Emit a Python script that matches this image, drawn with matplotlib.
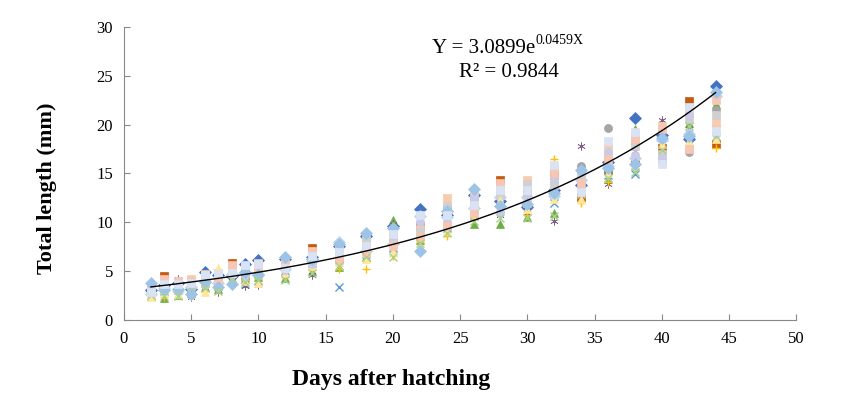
import numpy as np
import matplotlib
matplotlib.use("Agg")
import matplotlib.pyplot as plt

plt.rcParams['font.family'] = ['Liberation Serif', 'DejaVu Serif']

# sampling days
days = [2, 3, 4, 5, 6, 7, 8, 9, 10, 12, 14, 16, 18, 20, 22, 24, 26, 28, 30, 32, 34, 36, 38, 40, 42, 44]

# total length (mm) of each sampled larva, one row per day
lengths = [
    [3.1, 3.4, 2.5, 2.9, 2.6, 3.0, 2.8, 3.3, 2.7, 3.2, 2.4, 3.5, 3.0, 3.8, 2.6, 2.9],
    [3.6, 4.5, 2.2, 3.0, 2.6, 3.8, 2.4, 4.1, 3.3, 3.5, 2.8, 3.9, 4.2, 3.1, 2.5, 3.7],
    [3.8, 3.3, 2.6, 3.1, 4.2, 3.5, 2.9, 3.9, 3.0, 3.6, 2.7, 3.4, 4.0, 3.2, 2.5, 3.7],
    [3.2, 3.6, 2.8, 3.0, 2.4, 2.9, 2.5, 4.2, 3.4, 3.7, 3.1, 3.3, 4.0, 2.7, 3.5, 3.8],
    [4.9, 4.3, 3.4, 3.8, 3.2, 4.5, 3.0, 4.7, 4.0, 4.2, 2.9, 3.6, 4.4, 3.9, 3.3, 4.6],
    [4.6, 4.1, 3.2, 3.5, 2.9, 4.3, 3.1, 4.8, 3.8, 4.4, 5.3, 3.6, 4.0, 3.4, 3.0, 4.7],
    [4.5, 5.8, 4.2, 4.9, 4.0, 5.1, 4.4, 5.5, 4.7, 5.3, 4.1, 5.0, 5.6, 3.7, 4.3, 4.8],
    [5.7, 4.6, 4.2, 3.7, 3.5, 5.2, 4.1, 5.0, 4.8, 5.4, 4.0, 4.5, 5.3, 4.9, 3.9, 5.6],
    [6.1, 5.0, 4.4, 4.0, 3.6, 5.5, 4.2, 5.8, 4.7, 5.2, 3.8, 4.9, 5.4, 4.6, 4.1, 5.7],
    [6.2, 5.4, 4.3, 5.0, 4.6, 6.0, 4.5, 5.6, 5.2, 5.9, 4.8, 5.1, 5.7, 6.4, 4.1, 5.3],
    [6.5, 7.4, 5.0, 5.8, 4.6, 6.8, 5.2, 7.1, 6.0, 6.3, 5.5, 5.7, 6.9, 6.2, 4.8, 6.6],
    [7.6, 6.3, 5.4, 3.4, 5.7, 6.9, 5.2, 7.2, 8.0, 6.6, 5.9, 7.4, 6.1, 7.8, 5.5, 7.0],
    [8.6, 7.5, 6.5, 6.8, 6.3, 8.0, 5.2, 7.8, 7.1, 8.3, 6.2, 7.3, 6.9, 8.9, 6.4, 7.6],
    [9.6, 8.4, 10.2, 7.4, 9.8, 8.9, 6.6, 8.1, 7.8, 9.2, 7.0, 8.6, 7.6, 9.4, 6.5, 8.8],
    [11.4, 9.6, 8.2, 10.3, 8.7, 9.9, 8.0, 9.3, 10.6, 9.0, 7.6, 10.0, 8.5, 7.1, 7.9, 10.8],
    [10.8, 11.4, 9.8, 9.4, 10.2, 11.0, 8.6, 12.5, 10.5, 11.7, 9.1, 10.0, 9.6, 11.2, 8.9, 10.7],
    [12.8, 11.9, 9.8, 10.6, 11.2, 12.4, 10.3, 13.1, 11.5, 12.1, 10.9, 12.6, 11.0, 13.4, 10.1, 11.8],
    [12.2, 14.3, 9.8, 11.5, 10.8, 13.0, 11.9, 13.6, 12.6, 12.9, 12.3, 11.1, 14.0, 11.7, 10.4, 13.3],
    [11.6, 13.0, 10.5, 12.2, 11.0, 13.6, 10.8, 14.3, 12.6, 13.9, 11.4, 12.9, 12.0, 11.9, 10.4, 13.3],
    [13.3, 14.8, 11.0, 12.0, 10.1, 14.0, 16.5, 15.6, 12.7, 13.8, 12.4, 14.5, 15.1, 13.0, 10.6, 15.9],
    [13.8, 12.6, 13.2, 14.6, 17.8, 15.8, 12.0, 15.1, 14.3, 14.9, 12.4, 13.5, 14.0, 15.4, 12.9, 13.1],
    [16.2, 15.4, 14.4, 14.8, 13.9, 19.7, 14.1, 17.6, 15.8, 16.9, 15.0, 17.2, 16.5, 15.6, 14.5, 18.3],
    [20.7, 16.2, 19.6, 14.9, 17.3, 18.1, 15.5, 18.9, 16.6, 17.8, 15.9, 16.9, 18.5, 16.0, 15.2, 19.2],
    [18.9, 17.6, 16.8, 19.3, 20.5, 16.2, 17.2, 19.9, 18.4, 17.0, 18.0, 16.6, 19.6, 18.6, 17.4, 16.0],
    [18.5, 22.4, 20.2, 18.0, 19.6, 17.2, 17.7, 21.4, 19.0, 20.6, 18.3, 21.0, 17.5, 18.8, 19.9, 21.8],
    [24.0, 18.0, 22.1, 19.6, 20.8, 21.5, 17.6, 20.2, 22.9, 21.0, 18.5, 19.0, 22.5, 23.3, 18.8, 19.4],
]

# exponential trend line coefficients
fit_a = 3.0899
fit_b = 0.0459

markers = ['D', 's', '^', 'x', (6, 2, 0), 'o', '+', 's', 'D', 's', '^', 'o', 's', 'D', 'x', 's']
colors = ['#4472C4', '#C55A11', '#70AD47', '#5B9BD5', '#7F6084', '#A5A5A5', '#FFC000', '#F8CBAD',
          '#BDD7EE', '#D0D0D0', '#FFE699', '#C9CBE8', '#F7C6B4', '#9DC3E6', '#A9D18E', '#DAE3F3']

fig = plt.figure(figsize=(8.58, 4.03), dpi=100)
ax = fig.add_axes([0.1445, 0.206, 0.7835, 0.727])

data = np.array(lengths)
for k in range(data.shape[1]):
    ax.plot(days, data[:, k], linestyle='none', marker=markers[k], color=colors[k],
            markersize=5.8, markeredgewidth=1.0 if markers[k] in ('x', '+') else 0.5)

xs = np.linspace(min(days), max(days), 200)
ax.plot(xs, fit_a * np.exp(fit_b * xs), color='black', linewidth=1.0)

ax.set_xlim(0, 50)
ax.set_ylim(0, 30)
ax.set_xticks(range(0, 51, 5))
ax.set_yticks(range(0, 31, 5))
for s in ['top', 'right']:
    ax.spines[s].set_visible(False)
for s in ['left', 'bottom']:
    ax.spines[s].set_color('#888888')
ax.tick_params(direction='in', length=4, color='#888888', labelsize=12, pad=8)

# trend line equation, superscript drawn as a second small text
eq = ax.text(0.458, 0.925, 'Y = 3.0899e', transform=ax.transAxes,
             ha='left', va='center', fontsize=15)
ax.annotate('0.0459X', xy=(1.0, 0.62), xycoords=eq, ha='left', va='bottom', fontsize=10)
ax.text(0.573, 0.843, 'R\u00b2 = 0.9844', transform=ax.transAxes,
        ha='center', va='center', fontsize=15)

fig.text(391 / 858, 1 - 380 / 403, 'Days after hatching', ha='center', va='center',
         fontsize=17, fontweight='bold')
fig.text(47 / 858, 1 - 188 / 403, 'Total length (mm)', ha='center', va='center',
         rotation=90, fontsize=16, fontweight='bold')

fig.savefig('out.png', dpi=100)
